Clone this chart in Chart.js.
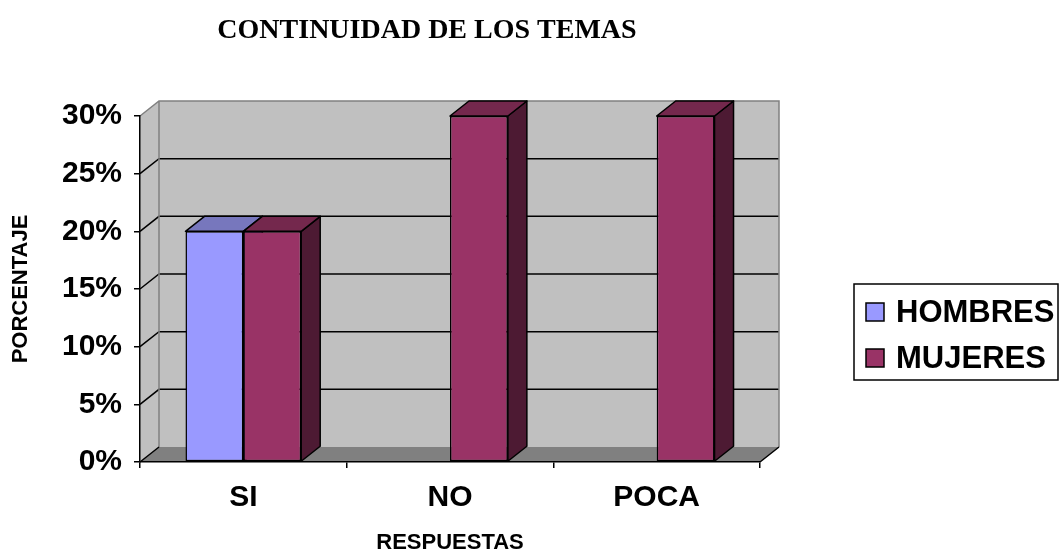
<!DOCTYPE html>
<html>
<head>
<meta charset="utf-8">
<title>Continuidad de los temas</title>
<script src="https://cdn.jsdelivr.net/npm/chart.js@4.4.1/dist/chart.umd.min.js"></script>
<style>
  body { margin: 0; background: #fff; }
  #wrap { width: 1060px; height: 554px; position: relative; }
</style>
</head>
<body>
<div id="wrap"><canvas id="bar"></canvas></div>
<script>
const categories = ["SI", "NO", "POCA"];
const seriesNames = ["HOMBRES", "MUJERES"];
const hombres = [20, 0, 0];
const mujeres = [20, 30, 30];
const yMax = 30;
const yStep = 5;
const chartTitle = "CONTINUIDAD DE LOS TEMAS";
const xTitle = "RESPUESTAS";
const yTitle = "PORCENTAJE";

// fake 3d depth (back wall + bars)
const DX = 19;
const DY = -15;

const faces = [
  { front: "#9999FF", top: "#7777BD", side: "#4D4D80" },
  { front: "#993366", top: "#74284D", side: "#4D1A33" }
];

const SANS = "'Liberation Sans', Arial, sans-serif";

function poly(ctx, pts) {
  ctx.beginPath();
  ctx.moveTo(pts[0][0], pts[0][1]);
  for (let i = 1; i < pts.length; i++) ctx.lineTo(pts[i][0], pts[i][1]);
  ctx.closePath();
}

const box3d = {
  id: "box3d",
  beforeDraw(chart) {
    const { ctx, chartArea: a, scales: { y } } = chart;
    const l = a.left, r = a.right;
    const t = y.getPixelForValue(yMax), b = y.getPixelForValue(0);
    ctx.save();
    // walls
    ctx.fillStyle = "#C0C0C0";
    poly(ctx, [[l, b], [l, t], [l + DX, t + DY], [l + DX, b + DY]]);
    ctx.fill();
    ctx.fillRect(l + DX, t + DY, r - l, b - t);
    // floor
    ctx.fillStyle = "#808080";
    poly(ctx, [[l, b], [r, b], [r + DX, b + DY], [l + DX, b + DY]]);
    ctx.fill();
    // gridlines on side + back wall
    ctx.strokeStyle = "#000";
    ctx.lineWidth = 1.5;
    ctx.beginPath();
    for (let v = yStep; v < yMax; v += yStep) {
      const py = y.getPixelForValue(v);
      ctx.moveTo(l, py);
      ctx.lineTo(l + DX, py + DY);
      ctx.lineTo(r + DX, py + DY);
    }
    ctx.stroke();
    // wall outline
    ctx.strokeStyle = "#808080";
    ctx.beginPath();
    ctx.moveTo(l, t);
    ctx.lineTo(l + DX, t + DY);
    ctx.lineTo(r + DX, t + DY);
    ctx.lineTo(r + DX, b + DY);
    ctx.moveTo(l + DX, t + DY);
    ctx.lineTo(l + DX, b + DY);
    ctx.stroke();
    // floor edges
    ctx.strokeStyle = "#000";
    ctx.beginPath();
    ctx.moveTo(l, b);
    ctx.lineTo(l + DX, b + DY);
    ctx.moveTo(r, b);
    ctx.lineTo(r + DX, b + DY);
    ctx.stroke();
    ctx.restore();
  },
  beforeDatasetsDraw(chart) {
    const ctx = chart.ctx;
    ctx.save();
    ctx.strokeStyle = "#000";
    ctx.lineWidth = 1.5;
    ctx.lineJoin = "round";
    chart.data.datasets.forEach((ds, i) => {
      const meta = chart.getDatasetMeta(i);
      meta.data.forEach((bar, j) => {
        if (!ds.data[j]) return;
        const p = bar.getProps(["x", "y", "base", "width"], true);
        const L = p.x - p.width / 2, R = p.x + p.width / 2;
        ctx.fillStyle = faces[i].side;
        poly(ctx, [[R, p.y], [R + DX, p.y + DY], [R + DX, p.base + DY], [R, p.base]]);
        ctx.fill();
        ctx.stroke();
        ctx.fillStyle = faces[i].top;
        poly(ctx, [[L, p.y], [R, p.y], [R + DX, p.y + DY], [L + DX, p.y + DY]]);
        ctx.fill();
        ctx.stroke();
      });
    });
    ctx.restore();
  },
  afterDraw(chart) {
    const ctx = chart.ctx;
    ctx.save();
    // title
    ctx.fillStyle = "#000";
    ctx.font = "bold 28px 'Liberation Serif', 'Times New Roman', serif";
    ctx.textAlign = "center";
    ctx.textBaseline = "middle";
    ctx.fillText(chartTitle, 427, 31);
    // legend
    ctx.lineWidth = 1.5;
    ctx.strokeStyle = "#000";
    ctx.strokeRect(854, 284, 204, 96);
    ctx.font = "bold 31px " + SANS;
    ctx.textAlign = "left";
    chart.data.datasets.forEach((ds, i) => {
      const cy = 312 + i * 46;
      ctx.fillStyle = ds.backgroundColor;
      ctx.fillRect(866, cy - 9, 18, 18);
      ctx.strokeRect(866, cy - 9, 18, 18);
      ctx.fillStyle = "#000";
      ctx.fillText(ds.label, 896, cy + 1);
    });
    ctx.restore();
  }
};

new Chart(document.getElementById("bar"), {
  type: "bar",
  data: {
    labels: categories,
    datasets: [
      {
        label: seriesNames[0],
        data: hombres,
        backgroundColor: faces[0].front,
        borderColor: "#000",
        borderWidth: 1.5,
        borderSkipped: false
      },
      {
        label: seriesNames[1],
        data: mujeres,
        backgroundColor: faces[1].front,
        borderColor: "#000",
        borderWidth: 1.5,
        borderSkipped: false
      }
    ]
  },
  options: {
    responsive: true,
    maintainAspectRatio: false,
    animation: false,
    categoryPercentage: 0.56,
    barPercentage: 1,
    layout: { padding: { top: 116, right: 300, bottom: 0, left: 0 } },
    plugins: {
      legend: { display: false },
      title: { display: false },
      tooltip: { enabled: false }
    },
    scales: {
      x: {
        afterFit(scale) { scale.height = 92; },
        grid: { offset: true, drawOnChartArea: false, tickLength: 6, color: "#000", lineWidth: 1.5 },
        border: { display: true, color: "#000", width: 1.5 },
        ticks: { color: "#000", padding: 12, font: { family: SANS, size: 30, weight: "bold" } },
        title: {
          display: true,
          text: xTitle,
          color: "#000",
          padding: 0,
          font: { family: SANS, size: 22, weight: "bold", lineHeight: 1 }
        }
      },
      y: {
        min: 0,
        max: yMax,
        afterFit(scale) { scale.width = 140; },
        grid: { drawOnChartArea: false, tickLength: 6, color: "#000", lineWidth: 1.5 },
        border: { display: true, color: "#000", width: 1.5 },
        ticks: {
          stepSize: yStep,
          color: "#000",
          padding: 12,
          font: { family: SANS, size: 30, weight: "bold" },
          callback: v => v + "%"
        },
        title: {
          display: true,
          text: yTitle,
          color: "#000",
          padding: { top: 10, bottom: 0 },
          font: { family: SANS, size: 22, weight: "bold", lineHeight: 1 }
        }
      }
    }
  },
  plugins: [box3d]
});
</script>
</body>
</html>
